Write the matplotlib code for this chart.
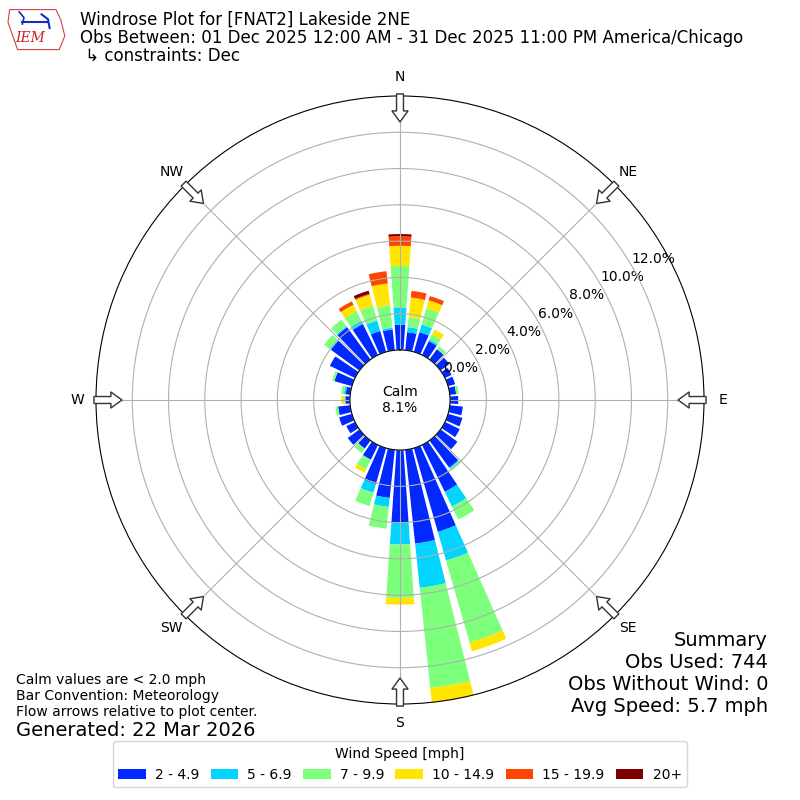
import numpy as np
import matplotlib
matplotlib.use("Agg")
import matplotlib.pyplot as plt
from matplotlib.patches import Patch, Polygon

# --- data: frequency (%) by direction (deg, from) and speed bin ---
directions = np.arange(0, 360, 10)
bin_labels = ["2 - 4.9", "5 - 6.9", "7 - 9.9", "10 - 14.9", "15 - 19.9", "20+"]
bin_colors = ["#0028ff", "#00d4ff", "#7cff7a", "#ffe500", "#ff4600", "#800000"]

spd_2_5 = [1.39, 1.00, 1.13, 0.85, 0.70, 0.60, 0.40, 0.40, 0.35, 0.45, 0.72, 0.82,
           0.90, 1.15, 1.85, 2.87, 4.80, 5.20, 4.00, 2.67, 2.06, 0.90, 0.55, 0.80,
           0.53, 0.73, 0.67, 0.25, 0.25, 1.00, 1.54, 1.95, 2.20, 1.90, 1.20, 1.15]
spd_5_7 = [0.96, 0.28, 0.44, 0.10, 0.00, 0.00, 0.00, 0.00, 0.00, 0.00, 0.00, 0.00,
           0.00, 0.00, 0.08, 0.90, 1.65, 2.45, 1.20, 0.50, 0.50, 0.00, 0.00, 0.00,
           0.00, 0.00, 0.00, 0.02, 0.10, 0.00, 0.00, 0.05, 0.07, 0.20, 0.60, 0.10]
spd_7_10 = [2.28, 0.55, 0.92, 0.32, 0.20, 0.00, 0.00, 0.00, 0.15, 0.00, 0.00, 0.00,
            0.00, 0.00, 0.12, 0.80, 4.70, 5.55, 2.95, 1.20, 0.76, 0.60, 0.30, 0.00,
            0.00, 0.00, 0.15, 0.05, 0.15, 0.13, 0.00, 0.41, 0.45, 0.57, 0.84, 1.24]
spd_10_15 = [1.11, 1.09, 0.47, 0.30, 0.00, 0.00, 0.00, 0.00, 0.00, 0.00, 0.00, 0.00,
             0.00, 0.00, 0.00, 0.00, 0.50, 0.80, 0.37, 0.00, 0.00, 0.20, 0.00, 0.00,
             0.00, 0.00, 0.00, 0.15, 0.00, 0.00, 0.00, 0.00, 0.00, 0.41, 0.64, 1.21]
spd_15_20 = [0.52, 0.37, 0.24, 0.00, 0.00, 0.00, 0.00, 0.00, 0.00, 0.00, 0.00, 0.00,
             0.00, 0.00, 0.00, 0.00, 0.00, 0.00, 0.00, 0.00, 0.00, 0.00, 0.00, 0.00,
             0.00, 0.00, 0.00, 0.00, 0.00, 0.00, 0.00, 0.00, 0.00, 0.21, 0.05, 0.68]
spd_20p = [0.13, 0.00, 0.00, 0.00, 0.00, 0.00, 0.00, 0.00, 0.00, 0.00, 0.00, 0.00,
           0.00, 0.00, 0.00, 0.00, 0.00, 0.00, 0.00, 0.00, 0.00, 0.00, 0.00, 0.00,
           0.00, 0.00, 0.00, 0.00, 0.00, 0.00, 0.00, 0.00, 0.00, 0.00, 0.18, 0.00]
series = [spd_2_5, spd_5_7, spd_7_10, spd_10_15, spd_15_20, spd_20p]

calm_pct = 8.1
rticks = [0, 2, 4, 6, 8, 10, 12]
compass = ["N", "NE", "E", "SE", "S", "SW", "W", "NW"]

# --- figure ---
fig = plt.figure(figsize=(8, 8), dpi=100)
ax = fig.add_axes([0.12, 0.12, 0.76, 0.76], projection="polar")
ax.set_theta_zero_location("N")
ax.set_theta_direction(-1)
rorigin = -2.76
ax.set_ylim(0, 14)
ax.set_rorigin(rorigin)

theta = np.deg2rad(directions)
width = np.deg2rad(8)
bottom = np.zeros(len(directions))
for vals, color in zip(series, bin_colors):
    vals = np.array(vals)
    ax.bar(theta, vals, width=width, bottom=bottom, color=color, linewidth=0)
    bottom += vals

ax.set_rgrids(rticks, labels=[f"{v:.1f}%" for v in rticks], angle=60)
ax.set_thetagrids(range(0, 360, 45), labels=compass)
ax.tick_params(axis="x", pad=3, labelsize=10)
ax.tick_params(axis="y", labelsize=10)
ax.grid(True, color="#b0b0b0", linewidth=0.8)

ax.text(0, rorigin, f"Calm\n{calm_pct:.1f}%", ha="center", va="center",
        fontsize=10)

# flow arrows at the rim pointing to the center
scale = 304 / (14 - rorigin)
r_tip = 278 / scale + rorigin
r_tail = 306 / scale + rorigin
for ang in range(0, 360, 45):
    t = np.deg2rad(ang)
    ax.annotate("", xy=(t, r_tip), xytext=(t, r_tail), annotation_clip=False,
                arrowprops=dict(facecolor="white", edgecolor="#333333",
                                width=5, headwidth=11.5, headlength=8,
                                shrink=0, linewidth=1))

# --- titles and notes ---
fig.text(0.1, 0.975, "Windrose Plot for [FNAT2] Lakeside 2NE", fontsize=12,
         va="center")
fig.text(0.1, 0.9525,
         "Obs Between: 01 Dec 2025 12:00 AM - 31 Dec 2025 11:00 PM America/Chicago",
         fontsize=12, va="center")
fig.text(0.1, 0.93, " \u21b3 constraints: Dec", fontsize=12, va="center")

fig.text(0.02, 0.15, "Calm values are < 2.0 mph", fontsize=10, va="center")
fig.text(0.02, 0.13, "Bar Convention: Meteorology", fontsize=10, va="center")
fig.text(0.02, 0.11, "Flow arrows relative to plot center.", fontsize=10,
         va="center")
fig.text(0.02, 0.0875, "Generated: 22 Mar 2026", fontsize=14, va="center")

summary = ["Summary", "Obs Used: 744", "Obs Without Wind: 0",
           "Avg Speed: 5.7 mph"]
for i, line in enumerate(summary):
    fig.text(0.96, 0.2 - i * 0.0275, line, fontsize=14, ha="right",
             va="center")

# small IEM logo
logo = Polygon([[0.012, 0.988], [0.07, 0.988], [0.076, 0.975], [0.081, 0.955],
                [0.074, 0.938], [0.022, 0.938], [0.016, 0.955], [0.01, 0.972]],
               closed=True, transform=fig.transFigure, fill=False,
               edgecolor="#d04040", linewidth=0.8)
fig.patches.append(logo)
fig.text(0.038, 0.952, "IEM", fontsize=10, color="#d02020", family="serif",
         style="italic", ha="center", va="center")
fig.add_artist(plt.Line2D([0.028, 0.06], [0.972, 0.972],
                          transform=fig.transFigure, color="#1030c0",
                          linewidth=1.5))
fig.add_artist(plt.Line2D([0.024, 0.03, 0.028], [0.985, 0.978, 0.97],
                          transform=fig.transFigure, color="#1030c0",
                          linewidth=1.2))
fig.add_artist(plt.Line2D([0.052, 0.06, 0.062], [0.982, 0.976, 0.965],
                          transform=fig.transFigure, color="#1030c0",
                          linewidth=1.5))

handles = [Patch(facecolor=c, label=l) for c, l in zip(bin_colors, bin_labels)]
fig.legend(handles=handles, loc="lower center", bbox_to_anchor=(0.5, 0.007),
           ncol=6, fontsize=10, title="Wind Speed [mph]", title_fontsize=10,
           handlelength=2.0, handletextpad=0.65, columnspacing=0.8)

fig.savefig("out.png", dpi=100)
